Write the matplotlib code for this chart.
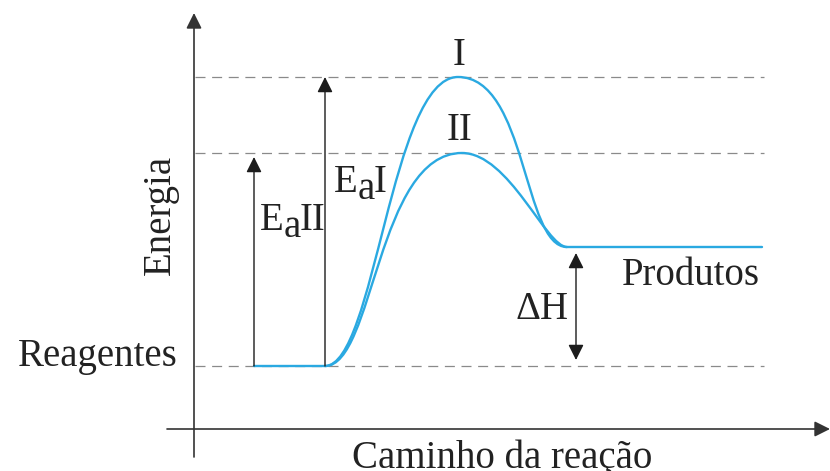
import matplotlib.pyplot as plt
from matplotlib.path import Path
from matplotlib.patches import PathPatch

plt.rcParams['font.family'] = ['Liberation Serif', 'DejaVu Serif']

# reaction coordinate / energy (reagents = 0).
# curves are given as cubic Bezier vertices: start, ctrl, ctrl, peak, ctrl, ctrl, end
curve_I_x = [131, 181, 197, 264, 333, 329, 373, 568]
curve_I_e = [0, 0, 289, 289, 289, 119, 119, 119]
curve_II_x = [131, 180, 183, 268, 315, 352, 373]
curve_II_e = [0, 0, 213, 213, 213, 119, 119]

reagent_path = [60, 131]
reagent_energy = [0, 0]

levels = [289, 213, 0]
e_reag, e_prod, e_ts2, e_ts1 = 0, 119, 213, 289

blue = '#2aa9e1'
dark = '#1c1c1c'
tc = '#222222'
fs = 28

fig = plt.figure(figsize=(8.3, 4.71), dpi=100)
ax = fig.add_axes([0, 0, 1, 1])
ax.set_xlim(-194, 636)
ax.set_ylim(-105, 366)
ax.axis('off')

# dashed reference levels
for lv in levels:
    ax.plot([1, 570], [lv, lv], color='#8a8a8a', lw=0.9,
            linestyle=(0, (8, 5.3)), zorder=1)

# axes with arrow heads
head = dict(arrowstyle='-|>,head_length=0.6,head_width=0.3',
            mutation_scale=15.6, shrinkA=0, shrinkB=0)
ax.annotate('', xy=(0, 353), xytext=(0, -91),
            arrowprops=dict(color='#333333', lw=1.2, **head))
ax.annotate('', xy=(636, -63), xytext=(-27, -63),
            arrowprops=dict(color='#333333', lw=1.2, **head))

# energy curves
ax.plot(reagent_path, reagent_energy, color=blue, lw=1.7, zorder=3,
        solid_capstyle='round')
codes_I = [Path.MOVETO] + [Path.CURVE4] * 6 + [Path.LINETO]
codes_II = [Path.MOVETO] + [Path.CURVE4] * 6
for xs, es, codes in [(curve_I_x, curve_I_e, codes_I),
                      (curve_II_x, curve_II_e, codes_II)]:
    p = Path(list(zip(xs, es)), codes)
    ax.add_patch(PathPatch(p, fill=False, edgecolor=blue, lw=1.7,
                           capstyle='round', zorder=3))

# activation energy / enthalpy arrows
ax.annotate('', xy=(60, e_ts2 - 4), xytext=(60, e_reag),
            arrowprops=dict(color=dark, lw=1.0, **head))
ax.annotate('', xy=(131, e_ts1), xytext=(131, e_reag),
            arrowprops=dict(color=dark, lw=1.0, **head))
ax.annotate('', xy=(382, e_prod - 6), xytext=(382, e_reag + 6),
            arrowprops=dict(color=dark, lw=1.0,
                            arrowstyle='<|-|>,head_length=0.6,head_width=0.3',
                            mutation_scale=15.6, shrinkA=0, shrinkB=0))

# labels
ax.text(265, 301, 'I', fontsize=fs, color=tc, ha='center', va='baseline')
ax.text(265, 226, 'II', fontsize=fs, color=tc, ha='center', va='baseline')
ax.text(-16, 0, 'Reagentes', fontsize=fs, color=tc, ha='right', va='baseline')
ax.text(566, 81, 'Produtos', fontsize=fs, color=tc, ha='right', va='baseline')
ax.text(374, 47, '\u0394H', fontsize=fs, color=tc, ha='right', va='baseline')

ax.text(66, 136, 'E', fontsize=fs, color=tc, ha='left', va='baseline')
ax.text(90, 129, 'a', fontsize=fs, color=tc, ha='left', va='baseline')
ax.text(106, 136, 'II', fontsize=fs, color=tc, ha='left', va='baseline')

ax.text(140, 174, 'E', fontsize=fs, color=tc, ha='left', va='baseline')
ax.text(164, 167, 'a', fontsize=fs, color=tc, ha='left', va='baseline')
ax.text(180, 174, 'I', fontsize=fs, color=tc, ha='left', va='baseline')

ax.text(-34, 151, 'Energia', fontsize=fs, color=tc, ha='center', va='center',
        rotation=90)
ax.text(308, -102, 'Caminho da reação', fontsize=fs, color=tc, ha='center',
        va='baseline')

fig.savefig('out.png', dpi=100)
